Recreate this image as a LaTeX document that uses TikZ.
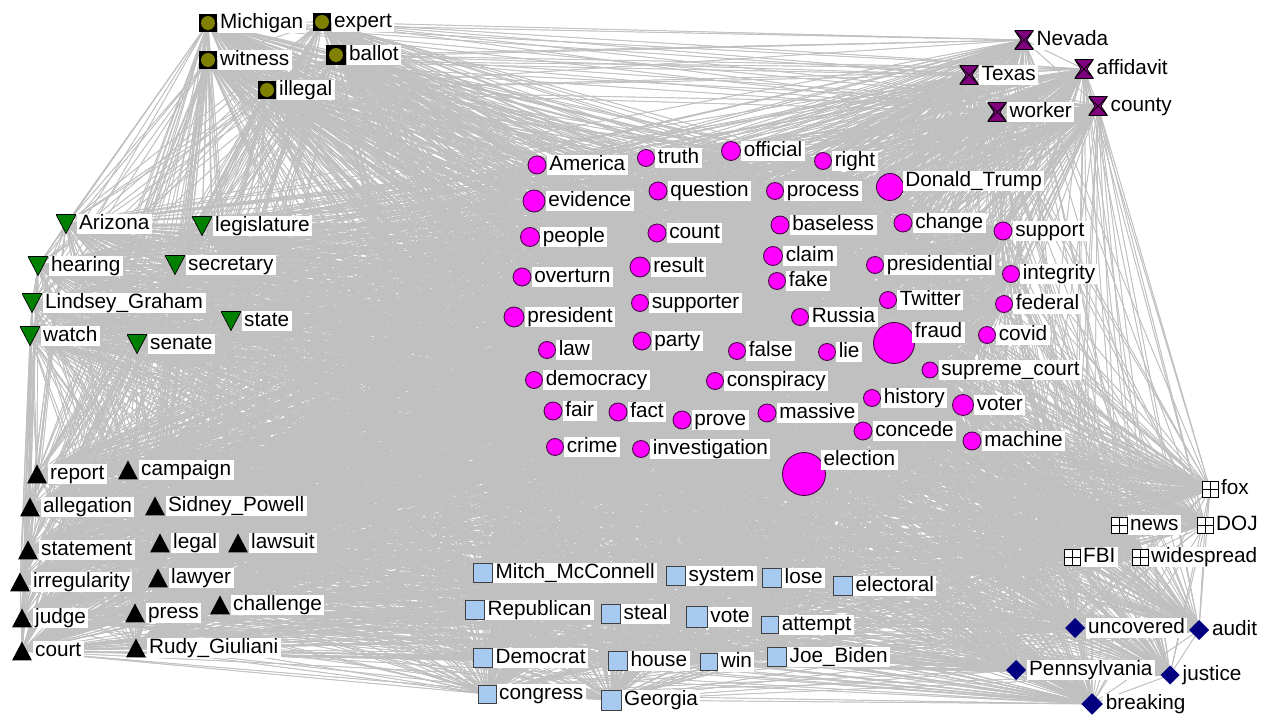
\documentclass[tikz,border=0pt]{standalone}
\usepackage{fontspec}
\setmainfont{Liberation Sans}
\usetikzlibrary{backgrounds}

\definecolor{edgegray}{RGB}{192,192,192}
\definecolor{magfill}{RGB}{255,0,255}
\definecolor{magline}{RGB}{70,0,70}
\definecolor{olivefill}{RGB}{128,128,0}
\definecolor{purpfill}{RGB}{128,0,128}
\definecolor{grnfill}{RGB}{0,128,0}
\definecolor{bluefill}{RGB}{166,202,240}
\definecolor{navyfill}{RGB}{0,0,128}

\newcommand\lblfont{\fontsize{11.8}{13}\selectfont}

\tikzset{
  lbl/.style={fill=white,text=black,font=\lblfont,inner xsep=1.4pt,inner ysep=0.3pt,text height=8.6pt,text depth=2.5pt},
  edge/.style={draw=edgegray,line width=0.4pt},
  circ/.style={circle,draw=magline,fill=magfill,line width=0.5pt,inner sep=0,minimum size=#1},
  circ/.default=0.34cm,
  okbox/.style={rectangle,fill=black,inner sep=0,minimum size=0.36cm,
    path picture={\fill[olivefill] (path picture bounding box.center) circle[radius=0.14cm];}},
  hglass/.style={rectangle,inner sep=0,minimum size=0.38cm,
    path picture={\filldraw[fill=purpfill,draw=black,shift={(path picture bounding box.center)}]
      (-0.19cm,0.19cm) -- (0.19cm,0.19cm) -- (0.06cm,0cm) -- (0.19cm,-0.19cm) -- (-0.19cm,-0.19cm) -- (-0.06cm,0cm) -- cycle
      (-0.19cm,0.19cm) -- (0.19cm,-0.19cm) (0.19cm,0.19cm) -- (-0.19cm,-0.19cm);}},
  tridown/.style={rectangle,inner sep=0,minimum width=0.4cm,minimum height=0.38cm,
    path picture={\filldraw[fill=grnfill,draw=black] (path picture bounding box.north west) -- (path picture bounding box.north east) -- (path picture bounding box.south) -- cycle;}},
  triup/.style={rectangle,inner sep=0,minimum width=0.4cm,minimum height=0.38cm,
    path picture={\fill[black] (path picture bounding box.south west) -- (path picture bounding box.south east) -- (path picture bounding box.north) -- cycle;}},
  sqbox/.style={rectangle,draw=black!75,fill=bluefill,inner sep=0,minimum size=#1},
  sqbox/.default=0.38cm,
  gridbox/.style={rectangle,draw=black,fill=white,inner sep=0,minimum size=0.32cm,
    path picture={\draw[black] (path picture bounding box.north) -- (path picture bounding box.south) (path picture bounding box.west) -- (path picture bounding box.east);}},
  dmnd/.style={rectangle,inner sep=0,minimum size=#1,
    path picture={\fill[navyfill] (path picture bounding box.north) -- (path picture bounding box.east) -- (path picture bounding box.south) -- (path picture bounding box.west) -- cycle;}},
  dmnd/.default=0.4cm
}

\def\wordlist{Michigan,expert,witness,ballot,illegal,
Nevada,Texas,affidavit,worker,county,
Arizona,legislature,hearing,secretary,LindseyGraham,state,watch,senate,
report,campaign,allegation,SidneyPowell,statement,legal,lawsuit,irregularity,lawyer,challenge,judge,press,court,RudyGiuliani,
MitchMcConnell,system,lose,electoral,Republican,steal,vote,attempt,Democrat,house,win,JoeBiden,congress,Georgia,
fox,news,DOJ,FBI,widespread,
uncovered,audit,Pennsylvania,justice,breaking,
America,truth,official,right,DonaldTrump,evidence,question,process,people,count,baseless,change,support,claim,fake,
overturn,result,presidential,integrity,supporter,president,Twitter,federal,Russia,fraud,covid,party,law,false,lie,
democracy,conspiracy,supremecourt,history,voter,fair,fact,prove,massive,concede,machine,crime,investigation,election}

\begin{document}
\begin{tikzpicture}[x=0.02cm,y=-0.02cm]
\useasboundingbox (0,0) rectangle (1269,716);

\node[okbox,label={[lbl]right:Michigan}] (Michigan) at (208,23) {};
\node[okbox,label={[lbl]right:expert}] (expert) at (322,22) {};
\node[okbox,label={[lbl]right:witness}] (witness) at (208,60) {};
\node[okbox,minimum size=0.4cm,label={[lbl]right:ballot}] (ballot) at (336,55) {};
\node[okbox,label={[lbl]right:illegal}] (illegal) at (267,90) {};

\node[hglass,label={[lbl]right:Nevada}] (Nevada) at (1024,40) {};
\node[hglass,label={[lbl]right:Texas}] (Texas) at (969,75) {};
\node[hglass,label={[lbl]right:affidavit}] (affidavit) at (1084,69) {};
\node[hglass,label={[lbl]right:worker}] (worker) at (997,112) {};
\node[hglass,label={[lbl]right:county}] (county) at (1098,106) {};

\node[tridown,label={[lbl]right:Arizona}] (Arizona) at (66,224) {};
\node[tridown,label={[lbl]right:legislature}] (legislature) at (202,226) {};
\node[tridown,label={[lbl]right:hearing}] (hearing) at (38,266) {};
\node[tridown,label={[lbl]right:secretary}] (secretary) at (175,265) {};
\node[tridown,label={[lbl]right:Lindsey\_Graham}] (LindseyGraham) at (32,303) {};
\node[tridown,label={[lbl]right:state}] (state) at (231,321) {};
\node[tridown,label={[lbl]right:watch}] (watch) at (30,336) {};
\node[tridown,label={[lbl]right:senate}] (senate) at (137,344) {};

\node[triup,label={[lbl]right:report}] (report) at (37,474) {};
\node[triup,label={[lbl]right:campaign}] (campaign) at (128,470) {};
\node[triup,label={[lbl]right:allegation}] (allegation) at (30,507) {};
\node[triup,label={[lbl]right:Sidney\_Powell}] (SidneyPowell) at (155,506) {};
\node[triup,label={[lbl]right:statement}] (statement) at (28,550) {};
\node[triup,label={[lbl]right:legal}] (legal) at (160,543) {};
\node[triup,label={[lbl]right:lawsuit}] (lawsuit) at (238,543) {};
\node[triup,label={[lbl]right:irregularity}] (irregularity) at (20,582) {};
\node[triup,label={[lbl]right:lawyer}] (lawyer) at (158,578) {};
\node[triup,label={[lbl]right:challenge}] (challenge) at (220,605) {};
\node[triup,label={[lbl]right:judge}] (judge) at (22,618) {};
\node[triup,label={[lbl]right:press}] (press) at (135,613) {};
\node[triup,label={[lbl]right:court}] (court) at (22,651) {};
\node[triup,label={[lbl]right:Rudy\_Giuliani}] (RudyGiuliani) at (136,648) {};

\node[sqbox,label={[lbl]right:Mitch\_McConnell}] (MitchMcConnell) at (483,573) {};
\node[sqbox,label={[lbl]right:system}] (system) at (676,576) {};
\node[sqbox,label={[lbl]right:lose}] (lose) at (772,578) {};
\node[sqbox,label={[lbl]right:electoral}] (electoral) at (843,586) {};
\node[sqbox,label={[lbl]right:Republican}] (Republican) at (475,610) {};
\node[sqbox,label={[lbl]right:steal}] (steal) at (611,614) {};
\node[sqbox=0.41cm,label={[lbl]right:vote}] (vote) at (697,617) {};
\node[sqbox=0.35cm,label={[lbl]right:attempt}] (attempt) at (770,625) {};
\node[sqbox,label={[lbl]right:Democrat}] (Democrat) at (483,658) {};
\node[sqbox,label={[lbl]right:house}] (house) at (618,661) {};
\node[sqbox=0.35cm,label={[lbl]right:win}] (win) at (709,662) {};
\node[sqbox,label={[lbl]right:Joe\_Biden}] (JoeBiden) at (777,657) {};
\node[sqbox=0.36cm,label={[lbl]right:congress}] (congress) at (487,694) {};
\node[sqbox=0.4cm,label={[lbl]right:Georgia}] (Georgia) at (611,700) {};

\node[gridbox,label={[lbl]right:fox}] (fox) at (1210,489) {};
\node[gridbox,label={[lbl]right:news}] (news) at (1119,525) {};
\node[gridbox,label={[lbl]right:DOJ}] (DOJ) at (1205,525) {};
\node[gridbox,label={[lbl]right:FBI}] (FBI) at (1072,557) {};
\node[gridbox,label={[lbl]right:widespread}] (widespread) at (1140,557) {};

\node[dmnd,label={[lbl]right:uncovered}] (uncovered) at (1075,628) {};
\node[dmnd,label={[lbl]right:audit}] (audit) at (1199,630) {};
\node[dmnd,label={[lbl]right:Pennsylvania}] (Pennsylvania) at (1016,670) {};
\node[dmnd=0.38cm,label={[lbl]right:justice}] (justice) at (1170,675) {};
\node[dmnd=0.43cm,label={[lbl]right:breaking}] (breaking) at (1092,704) {};

\node[circ=0.36cm,label={[lbl]right:America}] (America) at (537,165) {};
\node[circ,label={[lbl]right:truth}] (truth) at (646,158) {};
\node[circ=0.38cm,label={[lbl]right:official}] (official) at (731,151) {};
\node[circ,label={[lbl]right:right}] (right) at (823,161) {};
\node[circ=0.54cm,label={[lbl,anchor=west]25:Donald\_Trump}] (DonaldTrump) at (890,187) {};
\node[circ=0.44cm,label={[lbl]right:evidence}] (evidence) at (534,201) {};
\node[circ=0.36cm,label={[lbl]right:question}] (question) at (658,191) {};
\node[circ,label={[lbl]right:process}] (process) at (775,191) {};
\node[circ=0.38cm,label={[lbl]right:people}] (people) at (530,237) {};
\node[circ=0.36cm,label={[lbl]right:count}] (count) at (657,233) {};
\node[circ=0.36cm,label={[lbl]right:baseless}] (baseless) at (780,225) {};
\node[circ=0.36cm,label={[lbl]right:change}] (change) at (903,223) {};
\node[circ=0.36cm,label={[lbl]right:support}] (support) at (1003,231) {};
\node[circ=0.38cm,label={[lbl]right:claim}] (claim) at (773,256) {};
\node[circ,label={[lbl]right:fake}] (fake) at (777,281) {};
\node[circ=0.36cm,label={[lbl]right:overturn}] (overturn) at (522,277) {};
\node[circ=0.4cm,label={[lbl]right:result}] (result) at (640,267) {};
\node[circ,label={[lbl]right:presidential}] (presidential) at (875,265) {};
\node[circ,label={[lbl]right:integrity}] (integrity) at (1011,274) {};
\node[circ,label={[lbl]right:supporter}] (supporter) at (640,303) {};
\node[circ=0.4cm,label={[lbl]right:president}] (president) at (514,317) {};
\node[circ,label={[lbl]right:Twitter}] (Twitter) at (888,300) {};
\node[circ,label={[lbl]right:federal}] (federal) at (1004,304) {};
\node[circ,label={[lbl]right:Russia}] (Russia) at (800,317) {};
\node[circ=0.82cm,label={[lbl,anchor=west]30:fraud}] (fraud) at (894,343) {};
\node[circ,label={[lbl]right:covid}] (covid) at (987,335) {};
\node[circ=0.36cm,label={[lbl]right:party}] (party) at (642,341) {};
\node[circ,label={[lbl]right:law}] (law) at (547,350) {};
\node[circ,label={[lbl]right:false}] (false) at (737,351) {};
\node[circ,label={[lbl]right:lie}] (lie) at (827,352) {};
\node[circ,label={[lbl]right:democracy}] (democracy) at (534,380) {};
\node[circ,label={[lbl]right:conspiracy}] (conspiracy) at (715,381) {};
\node[circ=0.32cm,label={[lbl]right:supreme\_court}] (supremecourt) at (930,370) {};
\node[circ,label={[lbl]right:history}] (history) at (872,398) {};
\node[circ=0.42cm,label={[lbl]right:voter}] (voter) at (963,405) {};
\node[circ=0.36cm,label={[lbl]right:fair}] (fair) at (553,411) {};
\node[circ=0.36cm,label={[lbl]right:fact}] (fact) at (618,412) {};
\node[circ=0.36cm,label={[lbl]right:prove}] (prove) at (682,420) {};
\node[circ=0.36cm,label={[lbl]right:massive}] (massive) at (767,413) {};
\node[circ=0.36cm,label={[lbl]right:concede}] (concede) at (863,431) {};
\node[circ=0.36cm,label={[lbl]right:machine}] (machine) at (972,441) {};
\node[circ,label={[lbl]right:crime}] (crime) at (555,447) {};
\node[circ,label={[lbl]right:investigation}] (investigation) at (641,449) {};
\node[circ=0.86cm,label={[lbl,anchor=west]40:election}] (election) at (804,474) {};

\begin{pgfonlayer}{background}
\foreach \a in \wordlist
  \draw[edge] \foreach \b in \wordlist {(\a.center) -- (\b.center)};
\end{pgfonlayer}

\end{tikzpicture}
\end{document}
